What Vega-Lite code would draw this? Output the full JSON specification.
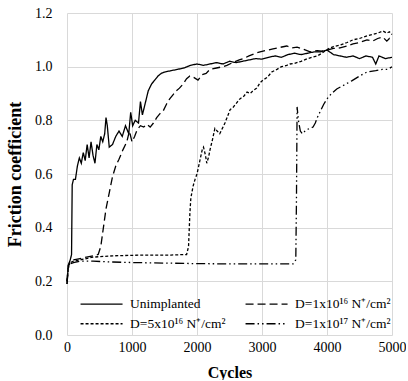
{
  "$schema": "https://vega.github.io/schema/vega-lite/v6.json",
  "width": 325,
  "height": 322,
  "padding": {"left": 6, "top": 6, "right": 0, "bottom": 0},
  "background": "white",
  "config": {
    "view": {"stroke": null},
    "font": "Liberation Serif",
    "axis": {"gridColor": "#d9d9d9", "gridWidth": 1, "domain": false, "ticks": false, "tickSize": 0, "labelFont": "Liberation Serif", "labelColor": "#000", "labelFontSize": 14, "titleFont": "Liberation Serif", "titleColor": "#000", "titleFontWeight": "bold", "titleFontSize": 16}
  },
  "datasets": {
    "u": [
      {"x": 0, "y": 0.19}, {"x": 20, "y": 0.26}, {"x": 50, "y": 0.28}, {"x": 70, "y": 0.3}, {"x": 80, "y": 0.56}, {"x": 100, "y": 0.58}, {"x": 130, "y": 0.58}, {"x": 160, "y": 0.63}, {"x": 190, "y": 0.66}, {"x": 220, "y": 0.64}, {"x": 250, "y": 0.68}, {"x": 280, "y": 0.65}, {"x": 310, "y": 0.71}, {"x": 340, "y": 0.66}, {"x": 370, "y": 0.72}, {"x": 400, "y": 0.67}, {"x": 430, "y": 0.64}, {"x": 460, "y": 0.71}, {"x": 490, "y": 0.69}, {"x": 520, "y": 0.74}, {"x": 550, "y": 0.72}, {"x": 580, "y": 0.75}, {"x": 600, "y": 0.81}, {"x": 620, "y": 0.78}, {"x": 650, "y": 0.7}, {"x": 700, "y": 0.71}, {"x": 750, "y": 0.74}, {"x": 800, "y": 0.76}, {"x": 850, "y": 0.74}, {"x": 900, "y": 0.78}, {"x": 950, "y": 0.75}, {"x": 980, "y": 0.83}, {"x": 1010, "y": 0.78}, {"x": 1050, "y": 0.8}, {"x": 1100, "y": 0.79}, {"x": 1130, "y": 0.87}, {"x": 1160, "y": 0.82}, {"x": 1200, "y": 0.86}, {"x": 1250, "y": 0.91}, {"x": 1300, "y": 0.935}, {"x": 1350, "y": 0.95}, {"x": 1400, "y": 0.965}, {"x": 1450, "y": 0.975}, {"x": 1500, "y": 0.98}, {"x": 1600, "y": 0.985}, {"x": 1700, "y": 0.99}, {"x": 1800, "y": 0.995}, {"x": 1900, "y": 1.005}, {"x": 2000, "y": 1.01}, {"x": 2100, "y": 1.005}, {"x": 2200, "y": 1.01}, {"x": 2300, "y": 1.015}, {"x": 2400, "y": 1.01}, {"x": 2500, "y": 1.02}, {"x": 2600, "y": 1.015}, {"x": 2700, "y": 1.02}, {"x": 2800, "y": 1.025}, {"x": 2900, "y": 1.03}, {"x": 3000, "y": 1.028}, {"x": 3100, "y": 1.035}, {"x": 3200, "y": 1.04}, {"x": 3300, "y": 1.035}, {"x": 3400, "y": 1.045}, {"x": 3500, "y": 1.05}, {"x": 3600, "y": 1.045}, {"x": 3700, "y": 1.05}, {"x": 3800, "y": 1.055}, {"x": 3900, "y": 1.055}, {"x": 4000, "y": 1.062}, {"x": 4100, "y": 1.045}, {"x": 4200, "y": 1.04}, {"x": 4300, "y": 1.035}, {"x": 4400, "y": 1.04}, {"x": 4500, "y": 1.03}, {"x": 4600, "y": 1.04}, {"x": 4700, "y": 1.035}, {"x": 4750, "y": 1.01}, {"x": 4800, "y": 1.04}, {"x": 4900, "y": 1.03}, {"x": 5000, "y": 1.035}
    ],
    "a": [
      {"x": 0, "y": 0.2}, {"x": 20, "y": 0.26}, {"x": 50, "y": 0.275}, {"x": 100, "y": 0.28}, {"x": 200, "y": 0.285}, {"x": 300, "y": 0.29}, {"x": 400, "y": 0.295}, {"x": 480, "y": 0.3}, {"x": 520, "y": 0.33}, {"x": 560, "y": 0.4}, {"x": 600, "y": 0.47}, {"x": 650, "y": 0.53}, {"x": 700, "y": 0.59}, {"x": 750, "y": 0.63}, {"x": 800, "y": 0.655}, {"x": 860, "y": 0.69}, {"x": 920, "y": 0.72}, {"x": 960, "y": 0.76}, {"x": 1000, "y": 0.72}, {"x": 1040, "y": 0.74}, {"x": 1080, "y": 0.765}, {"x": 1130, "y": 0.78}, {"x": 1180, "y": 0.775}, {"x": 1230, "y": 0.785}, {"x": 1280, "y": 0.775}, {"x": 1330, "y": 0.79}, {"x": 1380, "y": 0.81}, {"x": 1430, "y": 0.825}, {"x": 1480, "y": 0.835}, {"x": 1530, "y": 0.86}, {"x": 1580, "y": 0.88}, {"x": 1630, "y": 0.895}, {"x": 1680, "y": 0.91}, {"x": 1730, "y": 0.92}, {"x": 1785, "y": 0.935}, {"x": 1840, "y": 0.955}, {"x": 1890, "y": 0.965}, {"x": 1950, "y": 0.96}, {"x": 2015, "y": 0.95}, {"x": 2080, "y": 0.97}, {"x": 2140, "y": 0.975}, {"x": 2200, "y": 0.99}, {"x": 2300, "y": 0.995}, {"x": 2400, "y": 1.0}, {"x": 2460, "y": 1.005}, {"x": 2550, "y": 1.015}, {"x": 2650, "y": 1.025}, {"x": 2710, "y": 1.03}, {"x": 2800, "y": 1.04}, {"x": 2900, "y": 1.05}, {"x": 2970, "y": 1.055}, {"x": 3050, "y": 1.06}, {"x": 3170, "y": 1.066}, {"x": 3280, "y": 1.072}, {"x": 3380, "y": 1.077}, {"x": 3460, "y": 1.07}, {"x": 3540, "y": 1.073}, {"x": 3640, "y": 1.065}, {"x": 3740, "y": 1.055}, {"x": 3850, "y": 1.06}, {"x": 3920, "y": 1.058}, {"x": 4000, "y": 1.062}, {"x": 4100, "y": 1.068}, {"x": 4200, "y": 1.07}, {"x": 4310, "y": 1.077}, {"x": 4400, "y": 1.085}, {"x": 4500, "y": 1.09}, {"x": 4615, "y": 1.1}, {"x": 4700, "y": 1.095}, {"x": 4780, "y": 1.105}, {"x": 4860, "y": 1.11}, {"x": 4920, "y": 1.095}, {"x": 4960, "y": 1.105}, {"x": 5000, "y": 1.095}
    ],
    "b": [
      {"x": 0, "y": 0.2}, {"x": 20, "y": 0.255}, {"x": 50, "y": 0.27}, {"x": 100, "y": 0.275}, {"x": 200, "y": 0.28}, {"x": 300, "y": 0.285}, {"x": 400, "y": 0.29}, {"x": 500, "y": 0.292}, {"x": 700, "y": 0.295}, {"x": 1000, "y": 0.297}, {"x": 1300, "y": 0.298}, {"x": 1600, "y": 0.298}, {"x": 1840, "y": 0.3}, {"x": 1870, "y": 0.33}, {"x": 1890, "y": 0.45}, {"x": 1905, "y": 0.51}, {"x": 1940, "y": 0.555}, {"x": 1970, "y": 0.58}, {"x": 2000, "y": 0.6}, {"x": 2040, "y": 0.645}, {"x": 2080, "y": 0.69}, {"x": 2100, "y": 0.7}, {"x": 2130, "y": 0.67}, {"x": 2150, "y": 0.64}, {"x": 2180, "y": 0.665}, {"x": 2200, "y": 0.69}, {"x": 2240, "y": 0.73}, {"x": 2275, "y": 0.77}, {"x": 2310, "y": 0.76}, {"x": 2350, "y": 0.75}, {"x": 2390, "y": 0.77}, {"x": 2430, "y": 0.79}, {"x": 2470, "y": 0.815}, {"x": 2510, "y": 0.84}, {"x": 2560, "y": 0.85}, {"x": 2610, "y": 0.865}, {"x": 2660, "y": 0.88}, {"x": 2720, "y": 0.89}, {"x": 2770, "y": 0.905}, {"x": 2820, "y": 0.9}, {"x": 2860, "y": 0.91}, {"x": 2920, "y": 0.92}, {"x": 2970, "y": 0.94}, {"x": 3015, "y": 0.95}, {"x": 3080, "y": 0.96}, {"x": 3150, "y": 0.98}, {"x": 3230, "y": 0.99}, {"x": 3300, "y": 1.0}, {"x": 3380, "y": 1.005}, {"x": 3430, "y": 1.01}, {"x": 3500, "y": 1.012}, {"x": 3600, "y": 1.02}, {"x": 3700, "y": 1.03}, {"x": 3785, "y": 1.036}, {"x": 3850, "y": 1.04}, {"x": 3920, "y": 1.05}, {"x": 4015, "y": 1.066}, {"x": 4100, "y": 1.075}, {"x": 4200, "y": 1.08}, {"x": 4310, "y": 1.09}, {"x": 4400, "y": 1.1}, {"x": 4500, "y": 1.105}, {"x": 4615, "y": 1.115}, {"x": 4700, "y": 1.12}, {"x": 4780, "y": 1.125}, {"x": 4860, "y": 1.133}, {"x": 4920, "y": 1.125}, {"x": 4960, "y": 1.13}, {"x": 5000, "y": 1.12}
    ],
    "c": [
      {"x": 0, "y": 0.19}, {"x": 20, "y": 0.25}, {"x": 50, "y": 0.265}, {"x": 100, "y": 0.27}, {"x": 200, "y": 0.275}, {"x": 400, "y": 0.275}, {"x": 700, "y": 0.272}, {"x": 1000, "y": 0.27}, {"x": 1500, "y": 0.268}, {"x": 2000, "y": 0.266}, {"x": 2500, "y": 0.265}, {"x": 3000, "y": 0.265}, {"x": 3480, "y": 0.265}, {"x": 3520, "y": 0.28}, {"x": 3530, "y": 0.5}, {"x": 3540, "y": 0.85}, {"x": 3560, "y": 0.8}, {"x": 3590, "y": 0.76}, {"x": 3620, "y": 0.75}, {"x": 3680, "y": 0.765}, {"x": 3740, "y": 0.77}, {"x": 3785, "y": 0.775}, {"x": 3820, "y": 0.79}, {"x": 3850, "y": 0.81}, {"x": 3900, "y": 0.835}, {"x": 3950, "y": 0.86}, {"x": 4000, "y": 0.88}, {"x": 4070, "y": 0.9}, {"x": 4150, "y": 0.917}, {"x": 4250, "y": 0.93}, {"x": 4380, "y": 0.947}, {"x": 4500, "y": 0.965}, {"x": 4615, "y": 0.98}, {"x": 4750, "y": 0.985}, {"x": 4850, "y": 0.99}, {"x": 4940, "y": 0.99}, {"x": 5000, "y": 1.0}
    ]
  },
  "layer": [
    {"data": {"name": "u"}, "transform": [{"calculate": "'Unimplanted'", "as": "s"}], "mark": {"type": "line", "color": "#000", "strokeWidth": 1.3}, "encoding": {}},
    {"data": {"name": "a"}, "transform": [{"calculate": "'D=1x10¹⁶ N⁺/cm²'", "as": "s"}], "mark": {"type": "line", "color": "#000", "strokeWidth": 1.3}, "encoding": {}},
    {"data": {"name": "b"}, "transform": [{"calculate": "'D=5x10¹⁶ N⁺/cm²'", "as": "s"}], "mark": {"type": "line", "color": "#000", "strokeWidth": 1.3}, "encoding": {}},
    {"data": {"name": "c"}, "transform": [{"calculate": "'D=1x10¹⁷ N⁺/cm²'", "as": "s"}], "mark": {"type": "line", "color": "#000", "strokeWidth": 1.3}, "encoding": {}}
  ],
  "encoding": {
    "x": {"field": "x", "type": "quantitative", "scale": {"domain": [0, 5000], "nice": false}, "axis": {"title": "Cycles", "values": [0, 1000, 2000, 3000, 4000, 5000], "format": "d", "labelPadding": 5, "titlePadding": 10, "labelOverlap": false, "labelBound": false, "labelFlush": false}},
    "y": {"field": "y", "type": "quantitative", "scale": {"domain": [0, 1.2], "nice": false}, "axis": {"title": "Friction coefficient", "titleFontSize": 18, "values": [0, 0.2, 0.4, 0.6, 0.8, 1.0, 1.2], "format": ".1f", "labelPadding": 15, "titlePadding": 10}},
    "strokeDash": {"field": "s", "type": "nominal", "sort": ["Unimplanted", "D=1x10¹⁶ N⁺/cm²", "D=5x10¹⁶ N⁺/cm²", "D=1x10¹⁷ N⁺/cm²"],
      "scale": {"domain": ["Unimplanted", "D=1x10¹⁶ N⁺/cm²", "D=5x10¹⁶ N⁺/cm²", "D=1x10¹⁷ N⁺/cm²"], "range": [[1, 0], [8, 4], [3, 2], [9, 3, 1.5, 3, 1.5, 3]]},
      "legend": {"title": null, "orient": "none", "legendX": 11, "legendY": 284, "columns": 2, "direction": "horizontal", "symbolType": "M-1,0H9", "symbolSize": 70.6, "symbolStrokeWidth": 1.3, "symbolStrokeColor": "#000", "symbolFillColor": "transparent", "labelFont": "Liberation Serif", "labelFontSize": 13.5, "labelColor": "#000", "labelOffset": 38.6, "rowPadding": 5, "columnPadding": 16, "labelLimit": 200}
    }
  }
}
